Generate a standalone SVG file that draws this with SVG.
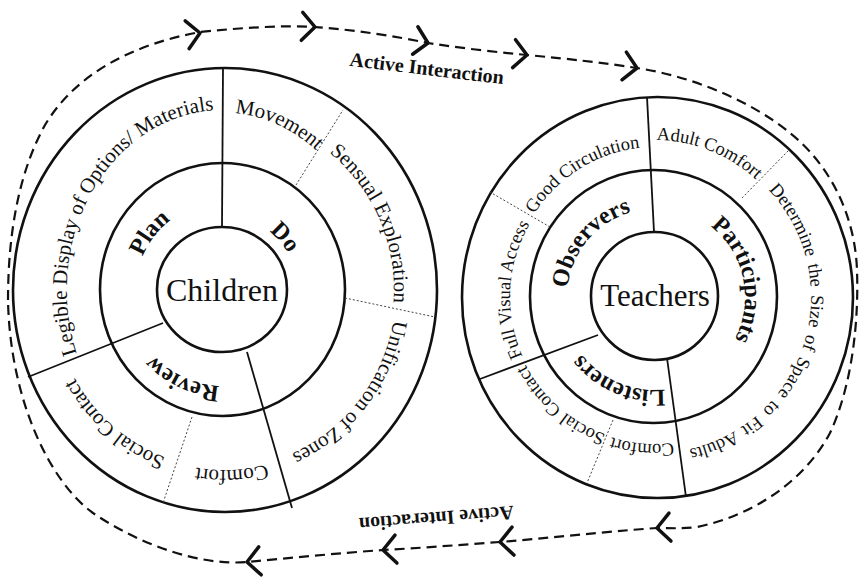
<svg xmlns="http://www.w3.org/2000/svg" width="860" height="579" viewBox="0 0 860 579">
<style>
.ring{fill:none;stroke:#111;stroke-width:2.6}
.div{stroke:#111;stroke-width:1.8;fill:none}
.dot{stroke:#444;stroke-width:1;stroke-dasharray:2 2;fill:none}
.t{font-family:"Liberation Serif","Times New Roman",serif;fill:#111}
.o{font-size:21px}
.ro{font-size:18.5px}
.b{font-size:24px;font-weight:bold}
.c{font-size:32px}
.loop{fill:none;stroke:#111;stroke-width:2.2;stroke-dasharray:10 6}
.chev{fill:none;stroke:#111;stroke-width:3.5;stroke-linecap:round;stroke-linejoin:round}
.lbl{font-family:"Liberation Serif","Times New Roman",serif;font-weight:bold;font-size:20px;fill:#111}
</style>
<defs>
<path id="chev" d="M-13,-14 L0,0 L-13,14"/>
<path id="pL1" d="M114.9,419.5 A157,180 0 0 1 287.9,125.5"/>
<path id="pL2" d="M172.7,123.6 A150,177 0 0 1 353.9,201.5"/>
<path id="pL3" d="M282.1,125.6 A170,175 0 0 1 381.6,355.6"/>
<path id="pL4" d="M395.3,274.5 A172,178 0 0 1 247.9,466.3"/>
<path id="pL5" d="M309,445.9 A170,180 0 0 1 152.2,453.1"/>
<path id="pL6" d="M194.1,465.3 A172,178 0 0 1 62.4,350.9"/>
<path id="pL7" d="M138.1,309 A88,88 0 0 1 220.2,202.1"/>
<path id="pL8" d="M222.7,216 A74,74 0 0 1 297.1,301.6"/>
<path id="pL9" d="M272,373.1 A96,96 0 0 1 129.5,306.7"/>
<path id="pR1" d="M572.3,327.1 A88,88 0 0 1 670.3,210.3"/>
<path id="pR2" d="M675.2,209.3 A90,90 0 0 1 709.2,368.9"/>
<path id="pR3" d="M704.3,375.9 A93,93 0 0 1 564,316.3"/>
<path id="pR4" d="M543.9,390.2 A145,145 0 0 1 554.3,192.7"/>
<path id="pR5" d="M518.7,245.7 A145,150 0 0 1 675.2,148.5"/>
<path id="pR6" d="M615.7,145.3 A152,157 0 0 1 782.5,211.5"/>
<path id="pR7" d="M682.1,143.4 A156,156 0 1 1 591.5,439.5"/>
<path id="pR8" d="M705.3,435.1 A147,147 0 0 1 581.5,424.3"/>
<path id="pR9" d="M629.6,440.8 A146,146 0 0 1 516.1,342.1"/>
</defs>
<rect width="860" height="579" fill="#ffffff"/>

<g id="connectors">
<path class="loop" d="M8,300 C8,230 20,170 45,125 C75,75 130,45 200,32 C240,28 280,25 315,27 C355,30 395,36 428,43 C460,48 495,52 527,55 C570,59 605,63 637,68 C690,76 750,100 790,133 C830,165 855,215 857,270 C859,330 850,390 830,433 C805,480 755,515 697,527 C680,529 670,528 657,528 C600,532 550,538 500,542 C460,545 420,548 383,550 C340,553 290,558 247,562 C200,566 140,545 93,513 C50,482 10,400 8,300 Z"/>
<use href="#chev" class="chev" transform="translate(200,33) rotate(-8)"/>
<use href="#chev" class="chev" transform="translate(315,27) rotate(3)"/>
<use href="#chev" class="chev" transform="translate(428,43) rotate(11)"/>
<use href="#chev" class="chev" transform="translate(527,55) rotate(6)"/>
<use href="#chev" class="chev" transform="translate(637,68) rotate(9)"/>
<use href="#chev" class="chev" transform="translate(657,528) rotate(176)"/>
<use href="#chev" class="chev" transform="translate(500,542) rotate(176)"/>
<use href="#chev" class="chev" transform="translate(383,550) rotate(176)"/>
<use href="#chev" class="chev" transform="translate(247,562) rotate(175)"/>
<text class="lbl" text-anchor="middle" transform="translate(426,75) rotate(6.8)">Active Interaction</text>
<text class="lbl" text-anchor="middle" transform="translate(436,512) rotate(175.4)">Active Interaction</text>
</g>

<g id="children">
<ellipse class="ring" cx="225" cy="290" rx="212" ry="222"/>
<ellipse class="ring" cx="222.5" cy="289.5" rx="122.5" ry="126.5"/>
<ellipse class="ring" cx="222" cy="289.5" rx="65" ry="62.5"/>
<line class="div" x1="222" y1="227" x2="223" y2="68"/>
<line class="div" x1="163" y1="323" x2="28" y2="377"/>
<line class="div" x1="247" y1="352" x2="292" y2="508"/>
<line class="dot" x1="296" y1="185" x2="343" y2="110"/>
<line class="dot" x1="345" y1="298" x2="435" y2="317"/>
<line class="dot" x1="192" y1="417" x2="163" y2="503"/>
<text class="t c" x="222" y="301" text-anchor="middle">Children</text>
<text class="t b"><textPath href="#pL7" startOffset="50%" text-anchor="middle">Plan</textPath></text>
<text class="t b"><textPath href="#pL8" startOffset="50%" text-anchor="middle">Do</textPath></text>
<text class="t b"><textPath href="#pL9" startOffset="50%" text-anchor="middle">Review</textPath></text>
<text class="t o"><textPath href="#pL1" startOffset="50%" text-anchor="middle">Legible Display of Options/ Materials</textPath></text>
<text class="t o"><textPath href="#pL2" startOffset="50%" text-anchor="middle">Movement</textPath></text>
<text class="t o"><textPath href="#pL3" startOffset="50%" text-anchor="middle">Sensual Exploration</textPath></text>
<text class="t o"><textPath href="#pL4" startOffset="50%" text-anchor="middle">Unification of Zones</textPath></text>
<text class="t o"><textPath href="#pL5" startOffset="50%" text-anchor="middle">Comfort</textPath></text>
<text class="t o"><textPath href="#pL6" startOffset="50%" text-anchor="middle">Social Contact</textPath></text>
</g>

<g id="teachers">
<ellipse class="ring" cx="657.5" cy="297.5" rx="195.5" ry="200.5"/>
<ellipse class="ring" cx="653.5" cy="296.5" rx="123.5" ry="126.5"/>
<ellipse class="ring" cx="654.5" cy="296" rx="63.5" ry="64"/>
<line class="div" x1="654" y1="232" x2="647" y2="97"/>
<line class="div" x1="598" y1="335" x2="480" y2="379"/>
<line class="div" x1="667" y1="358" x2="686" y2="497"/>
<line class="dot" x1="550" y1="227" x2="490" y2="192"/>
<line class="dot" x1="742" y1="198" x2="789" y2="150"/>
<line class="dot" x1="613" y1="420" x2="587" y2="483"/>
<text class="t" x="655" y="306" font-size="31" text-anchor="middle">Teachers</text>
<text class="t b"><textPath href="#pR1" startOffset="50%" text-anchor="middle">Observers</textPath></text>
<text class="t b"><textPath href="#pR2" startOffset="50%" text-anchor="middle">Participants</textPath></text>
<text class="t b"><textPath href="#pR3" startOffset="50%" text-anchor="middle">Listeners</textPath></text>
<text class="t ro"><textPath href="#pR4" startOffset="50%" text-anchor="middle">Full Visual Access</textPath></text>
<text class="t ro"><textPath href="#pR5" startOffset="50%" text-anchor="middle">Good Circulation</textPath></text>
<text class="t ro"><textPath href="#pR6" startOffset="50%" text-anchor="middle">Adult Comfort</textPath></text>
<text class="t ro" word-spacing="3"><textPath href="#pR7" startOffset="50%" text-anchor="middle">Determine the Size of Space to Fit Adults</textPath></text>
<text class="t ro"><textPath href="#pR8" startOffset="50%" text-anchor="middle">Comfort</textPath></text>
<text class="t ro"><textPath href="#pR9" startOffset="50%" text-anchor="middle">Social Contact</textPath></text>
</g>
</svg>
